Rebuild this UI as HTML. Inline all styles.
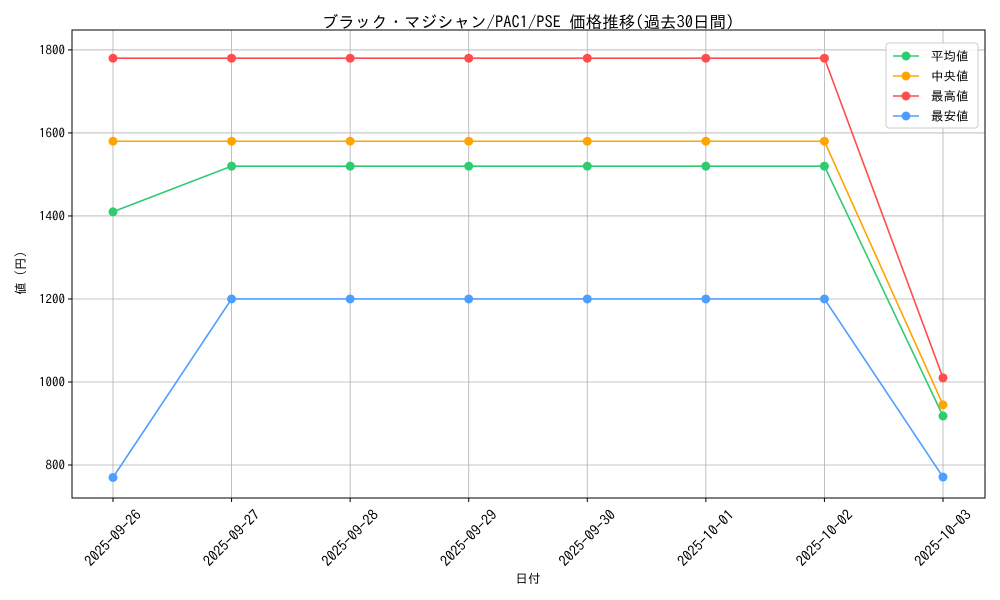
<!DOCTYPE html>
<html><head><meta charset="utf-8"><style>
html,body{margin:0;padding:0;background:#fff;}
svg{display:block;font-family:"IPAGothic","Noto Sans CJK JP",sans-serif;}
</style></head><body>
<svg id="chart" width="1000" height="600" xmlns="http://www.w3.org/2000/svg">
<rect width="1000" height="600" fill="#fff"/>
<text x="528" y="28" text-anchor="middle" font-size="16.5" fill="#000">ブラック・マジシャン/PAC1/PSE 価格推移(過去30日間)</text>
<g id="grid"></g><g id="axes"></g><g id="series"></g>
<text x="528" y="583" text-anchor="middle" font-size="12.5">日付</text>
<text transform="translate(25,273) rotate(-90)" text-anchor="middle" font-size="12.5">値 (円)</text>
<g id="legend"></g>
</svg>
<script>
const categories=["2025-09-26","2025-09-27","2025-09-28","2025-09-29","2025-09-30","2025-10-01","2025-10-02","2025-10-03"];
const avgValues=[1410,1520,1520,1520,1520,1520,1520,918];
const medianValues=[1580,1580,1580,1580,1580,1580,1580,945];
const maxValues=[1780,1780,1780,1780,1780,1780,1780,1010];
const minValues=[770,1200,1200,1200,1200,1200,1200,771];
const yTicks=[800,1000,1200,1400,1600,1800];
const seriesNames=["平均値","中央値","最高値","最安値"];
const seriesColors=["#2ecc71","#ffa500","#ff4d4d","#4d9fff"];
const NS="http://www.w3.org/2000/svg";
const L=72,R=985,T=30,B=498,yMin=720.5,yMax=1848;
const x=i=>113+i*(943-113)/(categories.length-1);
const y=v=>B-(v-yMin)/(yMax-yMin)*(B-T);
function mk(p,tag,a){const e=document.createElementNS(NS,tag);for(const k in a)e.setAttribute(k,a[k]);p.appendChild(e);return e;}
const grid=document.getElementById('grid'),axes=document.getElementById('axes'),ser=document.getElementById('series'),leg=document.getElementById('legend');
categories.forEach((c,i)=>{
 const g=mk(grid,'line',{x1:x(i),x2:x(i),y1:T,y2:B,stroke:'#b0b0b0','stroke-width':0.8});
 
 
 mk(axes,'line',{x1:x(i),x2:x(i),y1:B,y2:B+4,stroke:'#000'});
 const cx=x(i),cy=B+40;
 const t=mk(axes,'text',{x:cx,y:cy+5,'font-size':14.5,'text-anchor':'middle',transform:`rotate(-45 ${cx} ${cy})`});
 t.textContent=c;
 
 
});
yTicks.forEach(v=>{
 const g=mk(grid,'line',{x1:L,x2:R,y1:y(v),y2:y(v),stroke:'#b0b0b0','stroke-width':0.8});
 
 
 mk(axes,'line',{x1:L-4,x2:L,y1:y(v),y2:y(v),stroke:'#000'});
 const t=mk(axes,'text',{x:L-7,y:y(v)+4.5,'font-size':13,'text-anchor':'end'});
 t.textContent=v;
 
 
});
const frame=mk(axes,'rect',{x:L,y:T,width:R-L,height:B-T,fill:'none',stroke:'#000','stroke-width':1});


const all=[avgValues,medianValues,maxValues,minValues];
const keys=['avg','median','max','min'];
all.forEach((vals,s)=>{
 const g=mk(ser,'g',{});
 
 
 mk(g,'polyline',{points:vals.map((v,i)=>x(i)+','+y(v)).join(' '),fill:'none',stroke:seriesColors[s],'stroke-width':1.6});
 vals.forEach((v,i)=>{
  const c=mk(g,'circle',{cx:x(i),cy:y(v),r:4.5,fill:seriesColors[s]});
  
  
 });
});
const lb=mk(leg,'rect',{x:886,y:43,width:92,height:85,rx:3,fill:'#fff','fill-opacity':0.85,stroke:'#ccc'});


seriesNames.forEach((n,s)=>{
 const g=mk(leg,'g',{});
 
 
 const yy=56+s*20;
 mk(g,'line',{x1:893,x2:919,y1:yy,y2:yy,stroke:seriesColors[s],'stroke-width':1.6});
 mk(g,'circle',{cx:906,cy:yy,r:4.5,fill:seriesColors[s]});
 const t=mk(g,'text',{x:931,y:yy+4.5,'font-size':12.5});
 t.textContent=n;
});
</script>
</body></html>
